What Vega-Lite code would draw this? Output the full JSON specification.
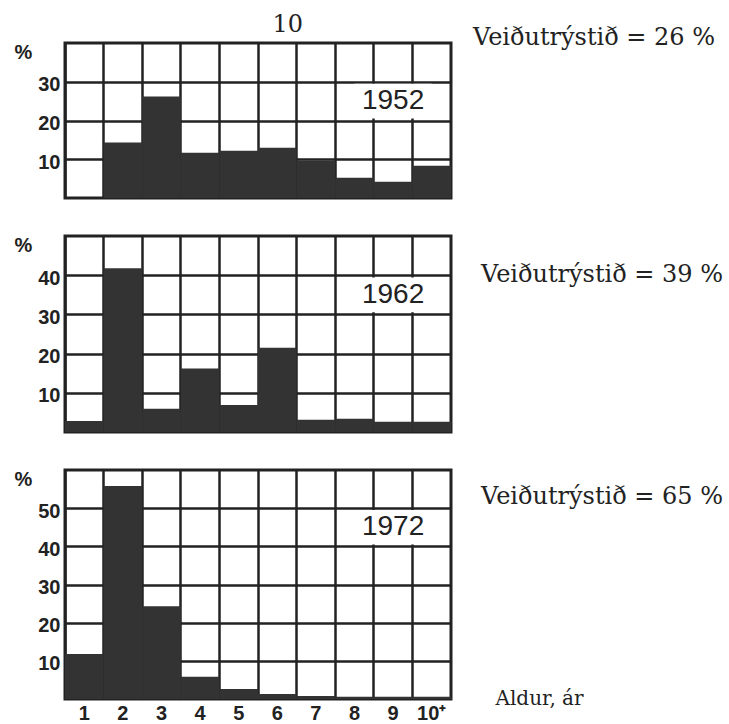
{
  "$schema": "https://vega.github.io/schema/vega-lite/v6.json",
  "background": "white",
  "padding": {"left": 12, "top": 12, "right": 2, "bottom": 0},
  "title": {"text": "10", "font": "DejaVu Serif", "fontSize": 24, "fontWeight": "normal", "anchor": "start", "frame": "bounds", "dx": 260, "color": "#222", "offset": -12},
  "datasets": {
    "ages": [
      {"year": 1952, "age": "1", "pct": 0},
      {"year": 1952, "age": "2", "pct": 14.3},
      {"year": 1952, "age": "3", "pct": 26.2},
      {"year": 1952, "age": "4", "pct": 11.7},
      {"year": 1952, "age": "5", "pct": 12.2},
      {"year": 1952, "age": "6", "pct": 13.0},
      {"year": 1952, "age": "7", "pct": 9.7},
      {"year": 1952, "age": "8", "pct": 5.2},
      {"year": 1952, "age": "9", "pct": 4.2},
      {"year": 1952, "age": "10+", "pct": 8.3},
      {"year": 1962, "age": "1", "pct": 2.8},
      {"year": 1962, "age": "2", "pct": 41.8},
      {"year": 1962, "age": "3", "pct": 5.9},
      {"year": 1962, "age": "4", "pct": 16.2},
      {"year": 1962, "age": "5", "pct": 6.9},
      {"year": 1962, "age": "6", "pct": 21.5},
      {"year": 1962, "age": "7", "pct": 3.1},
      {"year": 1962, "age": "8", "pct": 3.4},
      {"year": 1962, "age": "9", "pct": 2.6},
      {"year": 1962, "age": "10+", "pct": 2.6},
      {"year": 1972, "age": "1", "pct": 11.8},
      {"year": 1972, "age": "2", "pct": 55.8},
      {"year": 1972, "age": "3", "pct": 24.3},
      {"year": 1972, "age": "4", "pct": 5.8},
      {"year": 1972, "age": "5", "pct": 2.6},
      {"year": 1972, "age": "6", "pct": 1.3},
      {"year": 1972, "age": "7", "pct": 0.8},
      {"year": 1972, "age": "8", "pct": 0.6},
      {"year": 1972, "age": "9", "pct": 0.6},
      {"year": 1972, "age": "10+", "pct": 0.6}
    ]
  },
  "spacing": 33,
  "vconcat": [
    {
      "width": 386,
      "height": 155,
      "title": {"text": "Veiðutrýstið = 26 %", "orient": "top", "anchor": "end", "align": "left", "frame": "group", "dx": 22, "dy": 25, "baseline": "middle", "offset": 5, "font": "DejaVu Serif", "fontSize": 24, "fontWeight": "normal", "color": "#222"},
      "layer": [
        {
          "data": {"name": "ages"},
          "transform": [{"filter": "datum.year == 1952"}],
          "mark": {"type": "bar", "color": "#333"},
          "encoding": {
            "x": {"field": "age", "type": "ordinal", "scale": {"domain": ["1","2","3","4","5","6","7","8","9","10+"], "paddingInner": 0, "paddingOuter": 0},
                  "axis": {"bandPosition": 0, "grid": true, "labels": false, "ticks": false, "domain": false, "title": null}},
            "y": {"field": "pct", "type": "quantitative", "scale": {"domain": [0, 40], "nice": false},
                  "axis": {"values": [10, 20, 30], "title": "%", "titleX": -51, "titleY": 9}}
          }
        },
        {
          "data": {"values": [{"label": "1952"}]},
          "mark": {"type": "point", "shape": "M-1,-0.45H1V0.45H-1Z", "size": 5960, "filled": true, "color": "white", "opacity": 1, "strokeWidth": 0},
          "encoding": {"x": {"datum": "9", "type": "ordinal"}, "y": {"datum": 25, "type": "quantitative"}}
        },
        {
          "data": {"values": [{"label": "1952"}]},
          "mark": {"type": "text", "font": "Liberation Sans", "fontSize": 28, "color": "#222"},
          "encoding": {"x": {"datum": "9", "type": "ordinal"}, "y": {"datum": 25, "type": "quantitative"}, "text": {"field": "label"}}
        }
      ]
    },
    {
      "width": 386,
      "height": 196,
      "title": {"text": "Veiðutrýstið = 39 %", "orient": "top", "anchor": "end", "align": "left", "frame": "group", "dx": 30, "dy": 69, "baseline": "middle", "offset": 5, "font": "DejaVu Serif", "fontSize": 24, "fontWeight": "normal", "color": "#222"},
      "layer": [
        {
          "data": {"name": "ages"},
          "transform": [{"filter": "datum.year == 1962"}],
          "mark": {"type": "bar", "color": "#333"},
          "encoding": {
            "x": {"field": "age", "type": "ordinal", "scale": {"domain": ["1","2","3","4","5","6","7","8","9","10+"], "paddingInner": 0, "paddingOuter": 0},
                  "axis": {"bandPosition": 0, "grid": true, "labels": false, "ticks": false, "domain": false, "title": null}},
            "y": {"field": "pct", "type": "quantitative", "scale": {"domain": [0, 50], "nice": false},
                  "axis": {"values": [10, 20, 30, 40], "title": "%", "titleX": -51, "titleY": 9}}
          }
        },
        {
          "data": {"values": [{"label": "1962"}]},
          "mark": {"type": "point", "shape": "M-1,-0.45H1V0.45H-1Z", "size": 5960, "filled": true, "color": "white", "opacity": 1, "strokeWidth": 0},
          "encoding": {"x": {"datum": "9", "type": "ordinal"}, "y": {"datum": 35, "type": "quantitative"}}
        },
        {
          "data": {"values": [{"label": "1962"}]},
          "mark": {"type": "text", "font": "Liberation Sans", "fontSize": 28, "color": "#222"},
          "encoding": {"x": {"datum": "9", "type": "ordinal"}, "y": {"datum": 35, "type": "quantitative"}, "text": {"field": "label"}}
        }
      ]
    },
    {
      "width": 386,
      "height": 229,
      "title": {"text": "Veiðutrýstið = 65 %", "orient": "top", "anchor": "end", "align": "left", "frame": "group", "dx": 30, "dy": 57, "baseline": "middle", "offset": 5, "font": "DejaVu Serif", "fontSize": 24, "fontWeight": "normal", "color": "#222"},
      "layer": [
        {
          "data": {"name": "ages"},
          "transform": [{"filter": "datum.year == 1972"}],
          "mark": {"type": "bar", "color": "#333"},
          "encoding": {
            "x": {"field": "age", "type": "ordinal", "scale": {"domain": ["1","2","3","4","5","6","7","8","9","10+"], "paddingInner": 0, "paddingOuter": 0},
                  "axis": {"bandPosition": 0, "grid": true, "labels": true, "labelAngle": 0, "labelPadding": 4, "labelExpr": "datum.value == '10+' ? '10⁺' : datum.value", "ticks": false, "domain": false,
                           "title": "Aldur, ár", "titleX": 430, "titleY": -1, "titleAlign": "left", "titleBaseline": "middle", "titleFont": "DejaVu Serif", "titleFontSize": 20, "titleFontWeight": "normal"}},
            "y": {"field": "pct", "type": "quantitative", "scale": {"domain": [0, 60], "nice": false},
                  "axis": {"values": [10, 20, 30, 40, 50], "title": "%", "titleX": -51, "titleY": 9}}
          }
        },
        {
          "data": {"values": [{"label": "1972"}]},
          "mark": {"type": "point", "shape": "M-1,-0.45H1V0.45H-1Z", "size": 5960, "filled": true, "color": "white", "opacity": 1, "strokeWidth": 0},
          "encoding": {"x": {"datum": "9", "type": "ordinal"}, "y": {"datum": 45, "type": "quantitative"}}
        },
        {
          "data": {"values": [{"label": "1972"}]},
          "mark": {"type": "text", "font": "Liberation Sans", "fontSize": 28, "color": "#222"},
          "encoding": {"x": {"datum": "9", "type": "ordinal"}, "y": {"datum": 45, "type": "quantitative"}, "text": {"field": "label"}}
        }
      ]
    }
  ],
  "config": {
    "view": {"stroke": "#222", "strokeWidth": 3},
    "axis": {
      "gridColor": "#222", "gridWidth": 2.5, "gridOpacity": 1,
      "labelFont": "Liberation Sans", "labelFontSize": 20, "labelFontWeight": "bold", "labelColor": "#222",
      "titleColor": "#222"
    },
    "axisY": {
      "ticks": false, "domain": false, "labelPadding": 5, "labelOffset": 3, "labelBaseline": "middle",
      "titleAngle": 0, "titleAlign": "left", "titleBaseline": "middle", "titleFont": "Liberation Sans", "titleFontSize": 20, "titleFontWeight": "bold"
    }
  }
}
